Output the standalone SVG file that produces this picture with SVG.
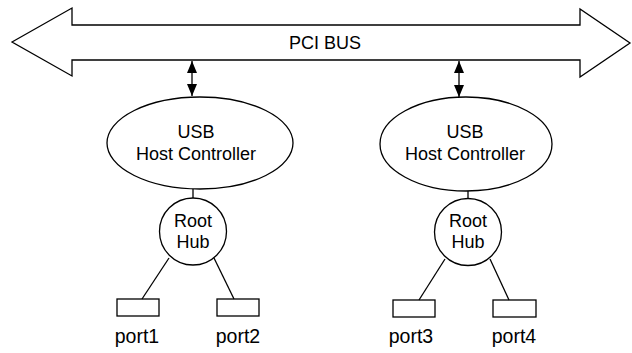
<svg xmlns="http://www.w3.org/2000/svg" width="632" height="353" viewBox="0 0 632 353">
<style>
.s{fill:none;stroke:#000;stroke-width:1.3}
.f{fill:#fff;stroke:#000;stroke-width:1.3}
.t{font-family:"Liberation Sans",Arial,sans-serif;font-size:18px;fill:#000;text-anchor:middle}
.p{font-family:"Liberation Sans",Arial,sans-serif;font-size:19.5px;fill:#000;text-anchor:middle}
</style>
<defs>
<marker id="ah" viewBox="0 0 12 10" refX="12" refY="5" markerWidth="12" markerHeight="10" markerUnits="userSpaceOnUse" orient="auto-start-reverse">
<path d="M0,0 L12,5 L0,10 Z" fill="#000"/>
</marker>
</defs>
<g id="pci-bus">
<polygon class="f" points="12,42 72,8 72,25 580,25 580,9 630,43 580,77 580,60 72,60 72,76"/>
<text class="t" x="325" y="49">PCI BUS</text>
</g>
<g id="hc1">
<ellipse class="f" cx="200" cy="143" rx="93" ry="46"/>
<text class="t" x="196" y="138">USB</text>
<text class="t" x="196" y="160">Host Controller</text>
</g>
<g id="hc2">
<ellipse class="f" cx="466" cy="144" rx="86" ry="47"/>
<text class="t" x="465" y="138">USB</text>
<text class="t" x="465" y="160">Host Controller</text>
</g>
<g id="hub1">
<circle class="f" cx="193" cy="231.5" r="33.5"/>
<text class="t" x="193" y="227">Root</text>
<text class="t" x="193" y="248">Hub</text>
</g>
<g id="hub2">
<circle class="f" cx="468" cy="232" r="33.5"/>
<text class="t" x="468" y="227">Root</text>
<text class="t" x="468" y="248">Hub</text>
</g>
<g id="port1">
<rect class="f" x="117" y="299" width="42" height="17"/>
<text class="p" x="137" y="343">port1</text>
</g>
<g id="port2">
<rect class="f" x="217" y="299" width="42" height="17"/>
<text class="p" x="238" y="343">port2</text>
</g>
<g id="port3">
<rect class="f" x="393" y="300" width="42" height="17"/>
<text class="p" x="411" y="343">port3</text>
</g>
<g id="port4">
<rect class="f" x="493" y="300" width="43" height="17"/>
<text class="p" x="514" y="343">port4</text>
</g>
<g id="connectors">
<line class="s" x1="192" y1="61" x2="192" y2="96" marker-start="url(#ah)" marker-end="url(#ah)"/>
<line class="s" x1="459" y1="61" x2="459" y2="97" marker-start="url(#ah)" marker-end="url(#ah)"/>
<line class="s" x1="193" y1="189" x2="193" y2="198"/>
<line class="s" x1="468" y1="191" x2="468" y2="198.5"/>
<line class="s" x1="169" y1="258" x2="142" y2="299"/>
<line class="s" x1="214" y1="258" x2="234" y2="299"/>
<line class="s" x1="445" y1="259" x2="419" y2="300"/>
<line class="s" x1="490" y1="259" x2="509" y2="300"/>
</g>
</svg>
